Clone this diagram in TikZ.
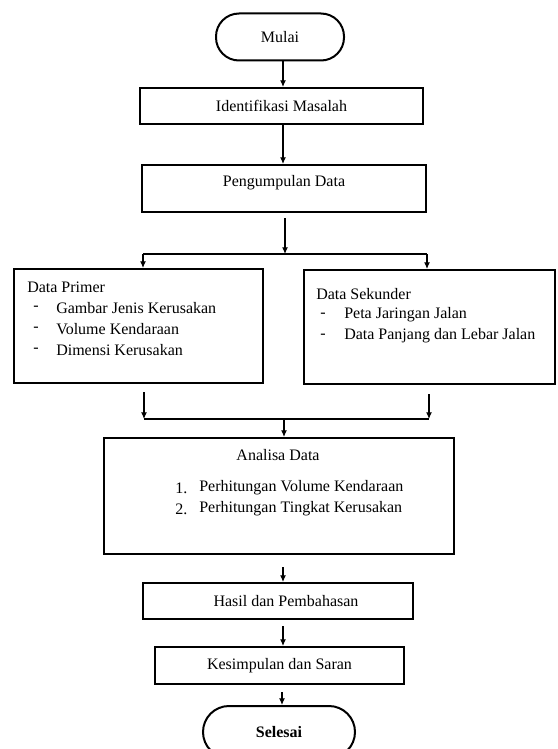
\documentclass[tikz,border=0pt]{standalone}
\usepackage{fontspec}
\setmainfont{Liberation Serif}
\usetikzlibrary{arrows.meta}
\newdimen\upx
\upx=0.75pt
\begin{document}
\begin{tikzpicture}[x=0.75pt,y=-0.75pt,
  font=\fontsize{12}{14}\selectfont,
  box/.style={draw,line width=1.5pt,inner sep=0pt,rectangle},
  term/.style={draw,line width=1.5pt,inner sep=0pt,rectangle},
  conn/.style={line width=0.9pt},
  arr/.style={line width=0.9pt,-{Latex[length=5pt,width=4.5pt]}},
  txt/.style={inner sep=0pt,anchor=west}]
\clip (0,0) rectangle (557,749);
\fill[white] (0,0) rectangle (557,749);
% terminators
\node[term,rounded corners=23\upx,minimum width=128\upx,minimum height=47\upx] (mulai) at (280,37) {Mulai};
\node[term,rounded corners=26\upx,minimum width=152\upx,minimum height=52\upx] (selesai) at (279,732) {\textbf{Selesai}};
% boxes
\node[box,minimum width=283\upx,minimum height=36\upx] (idm) at (281.5,106) {Identifikasi Masalah};
\node[box,minimum width=284\upx,minimum height=47\upx] (pgd) at (284,188.5) {};
\node[inner sep=0pt] (pgdt) at (284,183) {Pengumpulan Data};
\node[box,minimum width=249\upx,minimum height=114\upx] (prim) at (138.5,326) {};
\node[box,minimum width=251\upx,minimum height=114\upx] (sek) at (429.5,327) {};
\node[box,minimum width=350\upx,minimum height=116\upx] (ana) at (279,496) {};
\node[box,minimum width=270\upx,minimum height=36\upx] (hasil) at (278,601) {\hspace{16\upx}Hasil dan Pembahasan};
\node[box,minimum width=249\upx,minimum height=37\upx] (kes) at (279.5,665.5) {Kesimpulan dan Saran};
% texts in Data Primer
\node[txt] (p0) at (27,287) {Data Primer};
\node[txt] (p1d) at (33,308) {-};
\node[txt] (p1) at (56,308) {Gambar Jenis Kerusakan};
\node[txt] (p2d) at (33,329) {-};
\node[txt] (p2) at (56,329) {Volume Kendaraan};
\node[txt] (p3d) at (33,350) {-};
\node[txt] (p3) at (56,350) {Dimensi Kerusakan};
% texts in Data Sekunder
\node[txt] (s0) at (316,294) {Data Sekunder};
\node[txt] (s1d) at (320,315) {-};
\node[txt] (s1) at (344,315) {Peta Jaringan Jalan};
\node[txt] (s2d) at (320,336) {-};
\node[txt] (s2) at (344,336) {Data Panjang dan Lebar Jalan};
% texts in Analisa
\node[inner sep=0pt] (a0) at (278,455) {Analisa Data};
\node[txt] (a1n) at (175,488) {1.};
\node[txt] (a1) at (199,488) {Perhitungan Volume Kendaraan};
\node[txt] (a2n) at (175,509) {2.};
\node[txt] (a2) at (199,509) {Perhitungan Tingkat Kerusakan};
% coordinates for connectors
\coordinate (c1) at (285,218);
\coordinate (j1) at (285,254);
\coordinate (sl) at (143,254);
\coordinate (sr) at (427,254);
\coordinate (ml) at (144,392);
\coordinate (mr) at (429,394);
\coordinate (jl) at (144,419);
\coordinate (jr) at (429,419);
\coordinate (j2) at (284,419);
\coordinate (c2) at (283,567);
\coordinate (c3) at (283,626);
\coordinate (c4) at (282,692);
% connectors
\draw[arr] (mulai.south -| 283,0) -- (idm.north -| 283,0);
\draw[arr] (idm.south -| 283,0) -- (pgd.north -| 283,0);
\draw[arr] (c1) -- (j1);
\draw[conn] (sl) -- (sr);
\draw[arr] (sl) -- (sl |- prim.north);
\draw[arr] (sr) -- (sr |- sek.north);
\draw[arr] (ml) -- (jl);
\draw[arr] (mr) -- (jr);
\draw[conn] (jl) -- (jr);
\draw[arr] (j2) -- (j2 |- ana.north);
\draw[arr] (c2) -- (c2 |- hasil.north);
\draw[arr] (c3) -- (c3 |- kes.north);
\draw[arr] (c4) -- (c4 |- selesai.north);
\end{tikzpicture}
\end{document}
